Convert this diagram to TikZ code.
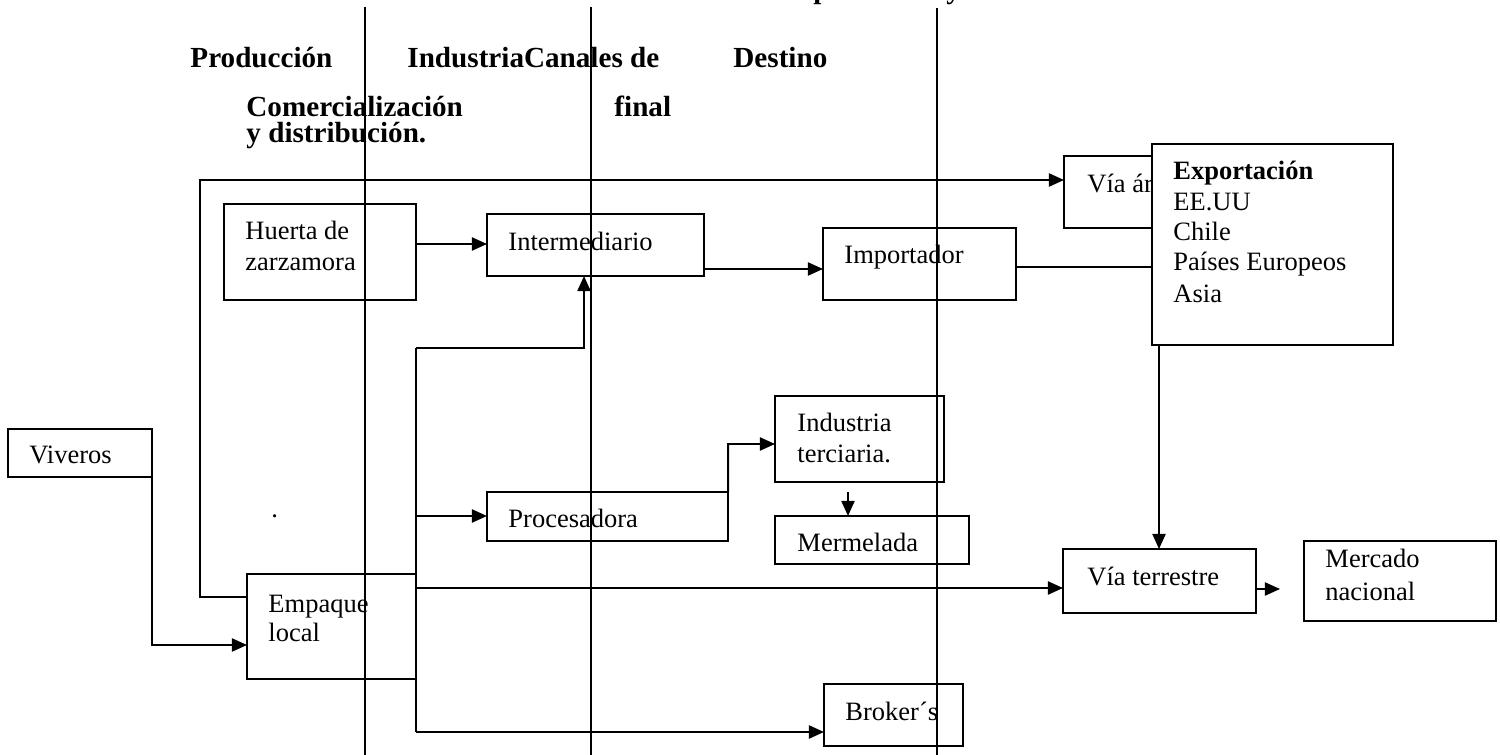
\documentclass[tikz,border=0pt]{standalone}
\usepackage{fontspec}
\setmainfont{Liberation Serif}
\usetikzlibrary{arrows.meta,fit}
\tikzset{
  box/.style={draw, line width=0.75pt, inner sep=0pt, outer sep=0pt},
  conn/.style={line width=0.9pt},
  arr/.style={conn, -{Triangle[length=6.8pt,width=5.9pt]}},
  divider/.style={line width=0.7pt},
  txt/.style={inner sep=0pt, anchor=base west, font=\fontsize{12}{13.8}\selectfont},
  hdr/.style={inner sep=0pt, anchor=base west, font=\fontsize{13.2}{15}\selectfont\bfseries}
}
\begin{document}
\begin{tikzpicture}[x=0.4528pt,y=-0.4528pt]
\useasboundingbox (0,0) rectangle (1500,755);

% cut-off title fragments
\node[hdr] (tp) at (813,-2) {p};
\node[hdr] (ty) at (946,-2) {y};

% headers
\node[hdr] (h1) at (190,67) {Producción};
\node[hdr] (h2) at (407,67) {IndustriaCanales de};
\node[hdr] (h3) at (733,67) {Destino};
\node[hdr] (h4) at (246,116) {Comercialización};
\node[hdr] (h5) at (614,116) {final};
\node[hdr] (h6) at (246,142) {y distribución.};

% vertical dividers
\coordinate (v1t) at (365,7);  \coordinate (v1b) at (365,755);
\coordinate (v2t) at (591,7);  \coordinate (v2b) at (591,755);
\coordinate (v3t) at (937,8);  \coordinate (v3b) at (937,755);
\draw[divider] (v1t) -- (v1b);
\draw[divider] (v2t) -- (v2b);
\draw[divider] (v3t) -- (v3b);

% boxes
\node[box, fit={(8,429)(152,477)}] (viv) {};
\node[box, fit={(247,574)(416,679)}] (emp) {};
\node[box, fit={(224,204)(416,300)}] (huerta) {};
\node[box, fit={(487,214)(704,276)}] (inter) {};
\node[box, fit={(823,228)(1016,300)}] (imp) {};
\node[box, fit={(1064,156)(1220,228)}] (via) {};
\node[box, fit={(487,492)(728,541)}] (proc) {};
\node[box, fit={(775,396)(944,482)}] (ind) {};
\node[box, fit={(775,516)(969,564)}] (merm) {};
\node[box, fit={(1063,549)(1256,613)}] (vt) {};
\node[box, fit={(1304,541)(1496,621)}] (merc) {};
\node[box, fit={(824,684)(963,746)}] (brk) {};

\node[txt] (tvia) at (1087,192) {Vía área};

% connectors
\coordinate (ja) at (200,597);
\coordinate (jb) at (200,180);
\draw[arr] (ja -| emp.west) -- (ja) -- (jb) -- (jb -| via.west);

\coordinate (jc) at (152,645);
\draw[arr] (viv.south east) -- (jc) -- (jc -| emp.west);

\coordinate (tt) at (416,348);
\coordinate (tb) at (416,732);
\draw[conn] (tt) -- (tb);
\draw[arr] (tb) -- (tb -| brk.west);

\coordinate (jd) at (416,244);
\draw[arr] (jd) -- (jd -| inter.west);

\coordinate (je) at (584,348);
\draw[arr] (tt) -- (je) -- (je |- inter.south);

\coordinate (jf) at (704,269);
\draw[arr] (jf) -- (jf -| imp.west);

\coordinate (jg) at (1016,267);
\draw[conn] (jg) -- (1152,267);

\coordinate (jh) at (416,516);
\draw[arr] (jh) -- (jh -| proc.west);

\coordinate (ji) at (728,444);
\draw[arr] (proc.north east) -- (ji) -- (ji -| ind.west);

\coordinate (jj) at (848,492);
\draw[arr] (jj) -- (jj |- merm.north);

\coordinate (jk) at (416,588);
\draw[arr] (jk) -- (jk -| vt.west);

\coordinate (jm) at (1280,589);
\draw[arr] (jm -| vt.east) -- (jm);

% Exportacion box on top of Via area
\node[box, fill=white, fit={(1152,144)(1393,345)}] (exp) {};
\coordinate (jl) at (1159,345);
\draw[arr] (jl) -- (jl |- vt.north);

% texts
\node[txt] (tviv) at (29,463) {Viveros};
\node[txt] (temp1) at (268,612) {Empaque};
\node[txt] (temp2) at (268,641) {local};
\node[txt] (thu1) at (245,239) {Huerta de};
\node[txt] (thu2) at (245,270) {zarzamora};
\node[txt] (tint) at (508,250) {Intermediario};
\node[txt] (timp) at (844,263) {Importador};
\node[txt, font=\fontsize{12}{13.8}\selectfont\bfseries] (te1) at (1173,179) {Exportación};
\node[txt] (te2) at (1173,210) {EE.UU};
\node[txt] (te3) at (1173,240) {Chile};
\node[txt] (te4) at (1173,270) {Países Europeos};
\node[txt] (te5) at (1173,302) {Asia};
\node[txt] (tproc) at (508,527) {Procesadora};
\node[txt] (tind1) at (797,431) {Industria};
\node[txt] (tind2) at (797,462) {terciaria.};
\node[txt] (tmerm) at (797,551) {Mermelada};
\node[txt] (tvt) at (1087,585) {Vía terrestre};
\node[txt] (tmc1) at (1325,567) {Mercado};
\node[txt] (tmc2) at (1325,600) {nacional};
\node[txt] (tbrk) at (845,720) {Broker´s};
\node[txt] (tdot) at (271,517) {.};
\end{tikzpicture}
\end{document}
